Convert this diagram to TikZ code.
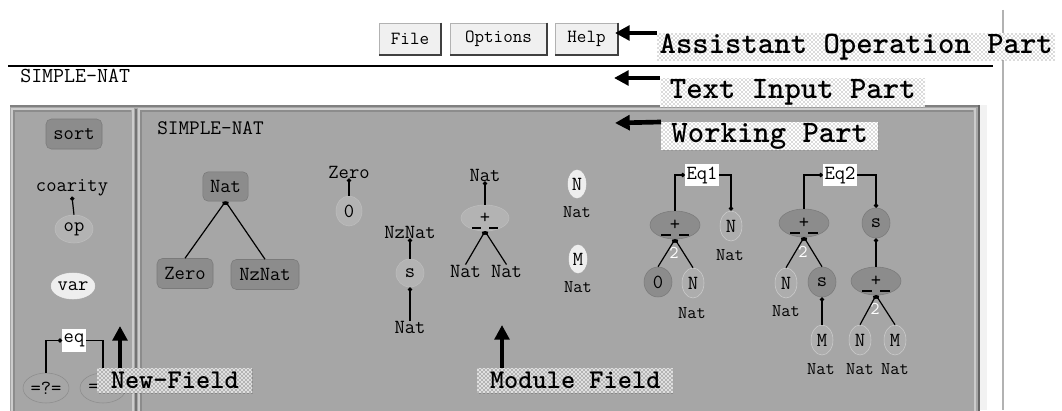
\documentclass[tikz,border=0pt]{standalone}
\usepackage{fontspec}
\usetikzlibrary{shapes.geometric,arrows.meta,patterns}
\definecolor{panel}{HTML}{A6A6A6}
\definecolor{dark}{HTML}{8C8C8C}
\definecolor{darkline}{HTML}{7A7A7A}
\definecolor{light}{HTML}{B3B3B3}
\definecolor{varw}{HTML}{EEEEEE}
\definecolor{btn}{HTML}{F0F0F0}
\definecolor{varline}{HTML}{CDCDCD}
\begin{document}
\begin{tikzpicture}[x=0.75pt,y=-0.75pt,
  gui/.style={font=\fontsize{15}{17}\selectfont\ttfamily, inner sep=0pt},
  small/.style={font=\fontsize{13.4}{15}\selectfont\ttfamily, inner sep=0pt},
  button/.style={font=\fontsize{13.9}{15}\selectfont\ttfamily, fill=btn, draw=black!30, minimum height=24pt, inner sep=0pt},
  sortbox/.style={gui, rounded corners=4pt, fill=dark, draw=darkline, minimum height=22.5pt},
  opnode/.style={gui, ellipse, fill=light, draw=light!85!white, minimum width=20pt, minimum height=21pt},
  varnode/.style={gui, ellipse, fill=varw, draw=varw, minimum width=13.5pt, minimum height=21pt},
  eqvar/.style={gui, ellipse, fill=panel!92!white, draw=varline, minimum width=16.5pt, minimum height=22.5pt},
  eqop/.style={gui, ellipse, fill=dark, draw=darkline, minimum width=21pt, minimum height=22.5pt},
  eqplus/.style={gui, ellipse, fill=dark, draw=darkline, minimum width=37.5pt, minimum height=21pt},
  eqbox/.style={gui, fill=white, minimum height=17pt, inner xsep=1pt},
  outl/.style={gui, ellipse, draw=black!45, minimum width=34.5pt, minimum height=22.5pt},
  conn/.style={line width=0.9pt, -{Circle[length=3.2pt]}},
  bars/.style={line width=0.9pt},
  two/.style={font=\fontsize{13.5}{15}\selectfont\ttfamily, text=white, inner sep=0pt},
  toplbl/.style={font=\fontsize{23.4}{25}\selectfont\ttfamily\bfseries, preaction={fill=white}, pattern=crosshatch dots, pattern color=black!60, inner sep=0pt, anchor=north west},
  botlbl/.style={font=\fontsize{20.3}{22}\selectfont\ttfamily\bfseries, preaction={fill=black!12}, pattern=crosshatch dots, pattern color=black!85, inner sep=0pt, anchor=north west, minimum height=18.75pt},
  bigarrow/.style={line width=3.5pt, -{Triangle[length=11pt,width=11pt]}}
]
\useasboundingbox (0,0) rectangle (1062,410);
\fill[white] (0,0) rectangle (1062,410);

% ---------- frame ----------
\draw[line width=1.5pt] (8,66) -- (993,66);
\draw[black!30, line width=1.2pt] (1003,10) -- (1003,410);
\fill[black!5] (980,105) rectangle (987,410);
\fill[panel] (10,105) rectangle (980,412);
\draw[black!50, line width=1.2pt] (10,106) -- (980,106);
\draw[black!60, line width=1.5pt] (979,105) -- (979,412);
\draw[black!20, line width=0.8pt] (12,412) -- (12,109) -- (133,109) -- (133,412);
\draw[black!45, line width=0.8pt] (14,412) -- (14,111) -- (131,111);
\draw[black!55, line width=1pt] (136,109) -- (136,412);
\draw[black!20, line width=0.8pt] (139,412) -- (139,109) -- (975,109) -- (975,412);
\draw[black!45, line width=0.8pt] (141,412) -- (141,111) -- (973,111);

% ---------- buttons ----------
\node[button, minimum width=46.5pt] (file) at (410,39) {File};
\node[button, minimum width=72.75pt] (opts) at (498.5,39) {Options};
\node[button, minimum width=47.25pt] (help) at (586.5,39) {Help};
\foreach \b in {file,opts,help}{
  \draw[black!75, line width=1.2pt] (\b.north east) -- (\b.south east) -- (\b.south west);
}
\node[gui, font=\fontsize{16}{18}\selectfont\ttfamily, anchor=west] (title) at (20,76) {SIMPLE-NAT};

% ---------- New-Field ----------
\node[sortbox, minimum width=42pt] (sort) at (74,134) {sort};
\node[gui] (coarity) at (72,188) {coarity};
\node[opnode, minimum width=28.5pt] (op) at (74,229) {op};
\node[gui, ellipse, fill=varw, draw=varw, minimum width=31.5pt, minimum height=19.5pt] (var) at (73,286) {var};
\node[eqbox] (eq) at (74,340.5) {eq};
\node[outl] (eqL) at (46,388) {=?=};
\node[outl, text width=22pt, align=left] (eqR) at (103,388) {=};
\draw[conn] (op.north) -- (coarity.south);
\draw[conn] (eqL.north) |- (eq.west);
\draw[conn] (eq.east) -| (eqR.north);

% ---------- Module Field ----------
\node[gui, font=\fontsize{15.5}{17}\selectfont\ttfamily, anchor=west] (mod) at (157,128) {SIMPLE-NAT};
\node[sortbox, minimum width=34pt, minimum height=22pt] (nat) at (225.5,186.5) {Nat};
\node[sortbox, minimum width=42pt] (zero) at (185,273.5) {Zero};
\node[sortbox, minimum width=51pt] (nznat) at (265,274.5) {NzNat};
\draw[conn] (zero.north) -- (nat.south);
\draw[conn] (nznat.north) -- (nat.south);

\node[gui] (zerolbl) at (349,172) {Zero};
\node[opnode, minimum width=19.5pt, minimum height=22.5pt] (zeroop) at (349,211) {0};
\draw[conn] (zeroop.north) -- (zerolbl.south);

\node[gui] (nznatlbl) at (410,232) {NzNat};
\node[opnode, minimum width=21pt, minimum height=21pt] (sop) at (410,273) {s};
\node[gui] (sarg) at (410,327) {Nat};
\draw[conn] (sop.north) -- (nznatlbl.south);
\draw[conn] (sarg.north) -- (sop.south);

\node[gui] (pluslbl) at (485,175) {Nat};
\node[opnode, minimum width=36pt, minimum height=19.5pt] (plusop) at (485,218) {+};
\draw[bars] (plusop.center) ++(-13,10) -- ++(9,0) ++(8,0) -- ++(9,0);
\node[gui] (argL) at (465.5,271) {Nat};
\node[gui] (argR) at (506.5,271) {Nat};
\draw[conn] (plusop.north) -- (pluslbl.south);
\draw[conn] (argL.north) -- (plusop.south);
\draw[conn] (argR.north) -- (plusop.south);

\node[varnode] (varN) at (577,184) {N};
\node[small] (varNs) at (577,212) {Nat};
\node[varnode] (varM) at (578,259) {M};
\node[small] (varMs) at (578,287) {Nat};

% ---------- Eq1 ----------
\node[eqbox] (eqone) at (702,175) {Eq1};
\node[eqplus] (p1) at (675,225) {+};
\draw[bars] (p1.center) ++(-14,10) -- ++(10,0) ++(8,0) -- ++(10,0);
\node[two] (two1) at (674,253) {2};
\node[eqop] (z1) at (658,282) {0};
\node[eqvar] (n1) at (693,283) {N};
\node[small] (n1s) at (692,313) {Nat};
\node[eqvar] (n2) at (731,226) {N};
\node[small] (n2s) at (730,255) {Nat};
\draw[conn] (p1.north) |- (eqone.west);
\draw[conn] (eqone.east) -| (n2.north);
\draw[conn] (z1.north) -- (p1.south);
\draw[conn] (n1.north) -- (p1.south);

% ---------- Eq2 ----------
\node[eqbox] (eqtwo) at (840,175) {Eq2};
\node[eqplus] (p2) at (804,223) {+};
\draw[bars] (p2.center) ++(-14,10) -- ++(10,0) ++(8,0) -- ++(10,0);
\node[two] (two2) at (803,252) {2};
\node[eqvar] (n3) at (786,283) {N};
\node[small] (n3s) at (786,311) {Nat};
\node[eqop] (s2) at (822,282) {s};
\node[eqvar] (m1) at (822,340) {M};
\node[small] (m1s) at (821,369) {Nat};
\node[eqop] (s3) at (876,223) {s};
\node[eqplus] (p3) at (876,281) {+};
\draw[bars] (p3.center) ++(-14,10) -- ++(10,0) ++(8,0) -- ++(10,0);
\node[two] (two3) at (875,309) {2};
\node[eqvar] (n4) at (860,340) {N};
\node[eqvar] (m2) at (895,340) {M};
\node[small] (n4s) at (860,369) {Nat};
\node[small] (m2s) at (895,369) {Nat};
\draw[conn] (p2.north) |- (eqtwo.west);
\draw[conn] (eqtwo.east) -| (s3.north);
\draw[conn] (n3.north) -- (p2.south);
\draw[conn] (s2.north) -- (p2.south);
\draw[conn] (m1.north) -- (s2.south);
\draw[conn] (p3.north) -- (s3.south);
\draw[conn] (n4.north) -- (p3.south);
\draw[conn] (m2.north) -- (p3.south);

% ---------- callout labels ----------
\node[toplbl, minimum width=298.5pt, minimum height=20.25pt] (lblA) at (657,33) {Assistant Operation Part};
\node[toplbl, minimum width=198.75pt, minimum height=21.75pt] (lblT) at (660,78) {Text Input Part};
\node[toplbl, minimum width=162.75pt, minimum height=21pt] (lblW) at (661,122) {Working Part};
\node[botlbl, minimum width=116.25pt] (lblN) at (97,368) {New-Field};
\node[botlbl, minimum width=147pt] (lblM) at (477,368) {Module Field};

\coordinate (tA) at (615,33);
\coordinate (tT) at (614,78);
\coordinate (tW) at (615,123);
\coordinate (tN) at (120,326);
\coordinate (tM) at (502,325);
\draw[bigarrow] (lblA.north west) -- (tA);
\draw[bigarrow] (lblT.north west) -- (tT);
\draw[bigarrow] (lblW.north west) -- (tW);
\draw[bigarrow] (lblN.north west -| tN) -- (tN);
\draw[bigarrow] (lblM.north west -| tM) -- (tM);
\end{tikzpicture}
\end{document}
